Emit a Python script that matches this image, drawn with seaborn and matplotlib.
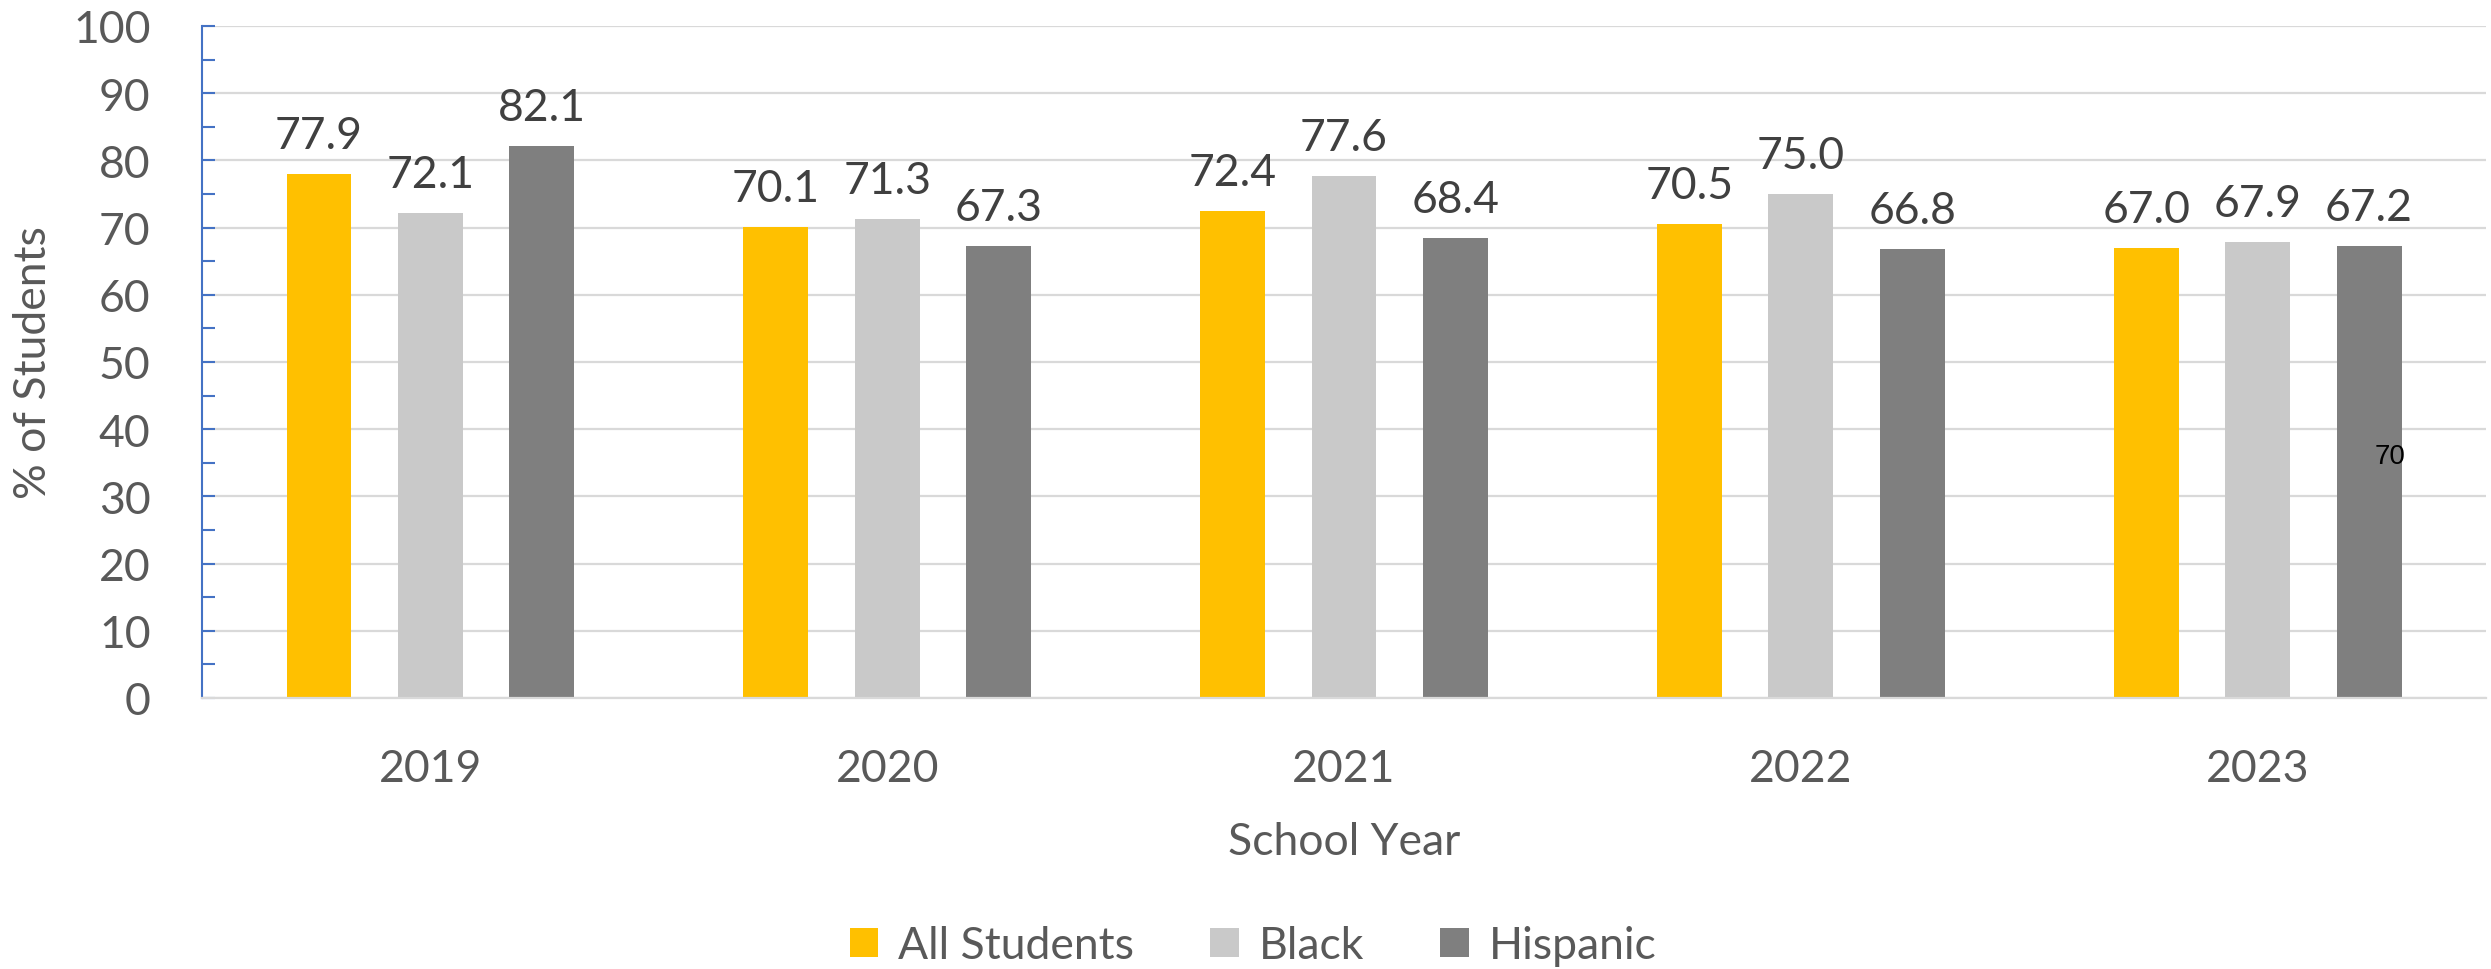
import matplotlib
matplotlib.use("Agg")
import matplotlib.pyplot as plt
import seaborn as sns
import pandas as pd
from matplotlib.ticker import MultipleLocator

# ---- data ----
years = ["2019", "2020", "2021", "2022", "2023"]
groups = ["All Students", "Black", "Hispanic"]
all_students = [77.9, 70.1, 72.4, 70.5, 67.0]
black = [72.1, 71.3, 77.6, 75.0, 67.9]
hispanic = [82.1, 67.3, 68.4, 66.8, 67.2]
colors = ["#FFC000", "#C9C9C9", "#7F7F7F"]
stray_label = "70"
stray_value = 36

df = pd.DataFrame({
    "School Year": years * 3,
    "Group": [g for g in groups for _ in years],
    "Value": all_students + black + hispanic,
})

sns.set_theme(style="white")
plt.rcParams["font.family"] = ["Lato", "DejaVu Sans"]

TXT = "#595959"
LBL = "#404040"
FS = 32

fig = plt.figure(figsize=(24.91, 9.70), dpi=100)
ax = fig.add_axes([0.0811, 0.2794, 0.9169, 0.6928])

sns.barplot(data=df, x="School Year", y="Value", hue="Group", order=years,
            hue_order=groups, palette=colors, width=0.732, gap=0.418,
            saturation=1, linewidth=0, ax=ax, legend=True)

ax.set_ylim(0, 100)
ax.set_xlim(-0.5, 4.5)
ax.yaxis.set_major_locator(MultipleLocator(10))
ax.yaxis.set_minor_locator(MultipleLocator(5))
ax.grid(axis="y", which="major", color="#D9D9D9", linewidth=1.6)
ax.set_axisbelow(True)

for s in ["top", "right"]:
    ax.spines[s].set_visible(False)
ax.spines["left"].set_color("#4472C4")
ax.spines["left"].set_linewidth(1.5)
ax.spines["bottom"].set_color("#D9D9D9")
ax.spines["bottom"].set_linewidth(1.6)

ax.tick_params(axis="y", which="both", direction="in", length=9.5, width=1.5,
               color="#4472C4", labelsize=FS, labelcolor=TXT, pad=37, left=True)
ax.tick_params(axis="x", which="both", length=0, labelsize=FS, labelcolor=TXT, pad=36)

for cont in ax.containers:
    ax.bar_label(cont, fmt="%.1f", padding=13, fontsize=FS, color=LBL)

ax.set_ylabel("% of Students", fontsize=FS, color=TXT, va="center")
ax.yaxis.set_label_coords(-0.074, 0.5)
ax.set_xlabel("School Year", fontsize=FS, color=TXT, va="center")
ax.xaxis.set_label_coords(0.5, -0.213)

# stray label inside last Hispanic bar
ax.text(4.29, stray_value, stray_label, fontsize=20, color="black",
        family="Liberation Sans", ha="center", va="center")

leg = ax.legend(loc="center", bbox_to_anchor=(0.503, 0.024),
                bbox_transform=fig.transFigure, ncol=3, frameon=False,
                fontsize=FS, handlelength=0.65, handleheight=0.65,
                handletextpad=0.45, columnspacing=1.7, labelcolor=TXT)

fig.savefig("out.png", dpi=100, facecolor="white")
